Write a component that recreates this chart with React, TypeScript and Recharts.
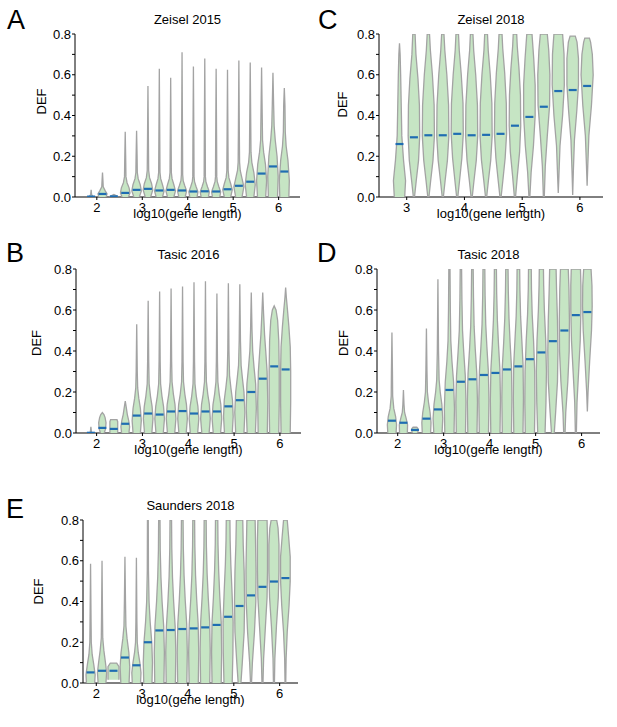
import { ComposedChart, Scatter, XAxis, YAxis } from "recharts";

// bin centres on log10(gene length)
const CENTERS_18 = [1.875, 2.125, 2.375, 2.625, 2.875, 3.125, 3.375, 3.625, 3.875, 4.125, 4.375, 4.625, 4.875, 5.125, 5.375, 5.625, 5.875, 6.125];
const CENTERS_14 = [2.875, 3.125, 3.375, 3.625, 3.875, 4.125, 4.375, 4.625, 4.875, 5.125, 5.375, 5.625, 5.875, 6.125];

const Y_TICKS = [0, 0.1, 0.2, 0.3, 0.4, 0.5, 0.6, 0.7, 0.8];
const X_TICKS_FROM_2 = [2, 3, 4, 5, 6];
const X_TICKS_FROM_3 = [3, 4, 5, 6];

// violin outlines: [DEF level, half width in log10 units], bottom to top
const ZEISEL_2015_MEDIANS = [0.002, 0.015, 0.003, 0.02, 0.035, 0.04, 0.032, 0.035, 0.032, 0.027, 0.028, 0.027, 0.038, 0.055, 0.075, 0.115, 0.15, 0.125];
const ZEISEL_2015_SHAPES = [
  [[0, 0.04], [0.006, 0.03], [0.012, 0.01], [0.035, 0]],
  [[0, 0.08], [0.015, 0.1], [0.03, 0.06], [0.05, 0.016], [0.08, 0.01], [0.12, 0]],
  [[0, 0.09], [0.006, 0.06], [0.012, 0]],
  [[0, 0.07], [0.02, 0.105], [0.045, 0.085], [0.07, 0.04], [0.1, 0.016], [0.18, 0.011], [0.32, 0]],
  [[0, 0.06], [0.03, 0.105], [0.06, 0.08], [0.09, 0.035], [0.12, 0.016], [0.2, 0.011], [0.325, 0]],
  [[0, 0.06], [0.035, 0.105], [0.065, 0.08], [0.095, 0.035], [0.13, 0.016], [0.25, 0.011], [0.545, 0]],
  [[0, 0.07], [0.03, 0.105], [0.06, 0.07], [0.09, 0.03], [0.12, 0.015], [0.25, 0.011], [0.63, 0]],
  [[0, 0.07], [0.03, 0.105], [0.06, 0.07], [0.09, 0.03], [0.12, 0.015], [0.25, 0.011], [0.585, 0]],
  [[0, 0.07], [0.03, 0.1], [0.055, 0.06], [0.08, 0.025], [0.11, 0.014], [0.25, 0.011], [0.71, 0]],
  [[0, 0.08], [0.025, 0.1], [0.05, 0.06], [0.075, 0.025], [0.1, 0.014], [0.25, 0.011], [0.64, 0]],
  [[0, 0.08], [0.025, 0.1], [0.05, 0.06], [0.075, 0.025], [0.1, 0.014], [0.25, 0.011], [0.68, 0]],
  [[0, 0.08], [0.025, 0.1], [0.05, 0.06], [0.075, 0.025], [0.1, 0.014], [0.25, 0.011], [0.63, 0]],
  [[0, 0.07], [0.035, 0.105], [0.065, 0.07], [0.095, 0.03], [0.13, 0.015], [0.25, 0.011], [0.625, 0]],
  [[0, 0.07], [0.05, 0.11], [0.09, 0.07], [0.13, 0.03], [0.17, 0.016], [0.3, 0.011], [0.67, 0]],
  [[0, 0.08], [0.06, 0.11], [0.12, 0.08], [0.17, 0.035], [0.22, 0.017], [0.35, 0.012], [0.66, 0]],
  [[0, 0.09], [0.08, 0.11], [0.16, 0.085], [0.22, 0.045], [0.28, 0.021], [0.4, 0.014], [0.635, 0]],
  [[0, 0.1], [0.1, 0.115], [0.2, 0.09], [0.28, 0.05], [0.35, 0.026], [0.45, 0.015], [0.61, 0]],
  [[0, 0.1], [0.08, 0.11], [0.18, 0.08], [0.25, 0.04], [0.32, 0.021], [0.45, 0.014], [0.535, 0]],
];

const ZEISEL_2018_MEDIANS = [0.26, 0.293, 0.303, 0.303, 0.31, 0.303, 0.305, 0.31, 0.35, 0.393, 0.443, 0.52, 0.525, 0.545];
const ZEISEL_2018_SHAPES = [
  [[0, 0.09], [0.08, 0.105], [0.18, 0.07], [0.3, 0.04], [0.45, 0.03], [0.6, 0.02], [0.7, 0.011], [0.755, 0]],
  [[0, 0.01], [0.08, 0.04], [0.18, 0.08], [0.3, 0.1], [0.45, 0.095], [0.58, 0.07], [0.7, 0.035], [0.8, 0.02]],
  [[0, 0.01], [0.08, 0.04], [0.18, 0.08], [0.3, 0.105], [0.45, 0.1], [0.6, 0.07], [0.72, 0.035], [0.8, 0.02]],
  [[0, 0.01], [0.08, 0.04], [0.18, 0.08], [0.3, 0.105], [0.45, 0.1], [0.6, 0.07], [0.72, 0.035], [0.8, 0.02]],
  [[0, 0.01], [0.08, 0.04], [0.19, 0.08], [0.31, 0.105], [0.46, 0.1], [0.6, 0.07], [0.72, 0.035], [0.8, 0.022]],
  [[0, 0.01], [0.08, 0.04], [0.18, 0.08], [0.3, 0.105], [0.45, 0.1], [0.6, 0.07], [0.72, 0.035], [0.8, 0.022]],
  [[0, 0.01], [0.08, 0.04], [0.18, 0.08], [0.3, 0.105], [0.46, 0.1], [0.6, 0.072], [0.72, 0.037], [0.8, 0.024]],
  [[0, 0.01], [0.08, 0.04], [0.19, 0.08], [0.31, 0.105], [0.46, 0.1], [0.61, 0.072], [0.73, 0.038], [0.8, 0.026]],
  [[0, 0.01], [0.1, 0.04], [0.22, 0.08], [0.35, 0.1], [0.5, 0.095], [0.63, 0.07], [0.74, 0.04], [0.8, 0.03]],
  [[0, 0.008], [0.12, 0.03], [0.25, 0.07], [0.4, 0.1], [0.55, 0.1], [0.68, 0.075], [0.8, 0.045]],
  [[0, 0.008], [0.15, 0.025], [0.3, 0.06], [0.45, 0.1], [0.6, 0.105], [0.72, 0.085], [0.8, 0.06]],
  [[0.02, 0], [0.1, 0.011], [0.25, 0.03], [0.4, 0.075], [0.55, 0.105], [0.7, 0.1], [0.8, 0.075]],
  [[0.01, 0], [0.12, 0.011], [0.28, 0.03], [0.42, 0.07], [0.55, 0.1], [0.68, 0.1], [0.76, 0.075], [0.79, 0.045]],
  [[0.055, 0], [0.15, 0.011], [0.3, 0.03], [0.45, 0.075], [0.6, 0.105], [0.7, 0.09], [0.76, 0.06], [0.78, 0.04]],
];

const TASIC_2016_MEDIANS = [0.001, 0.025, 0.02, 0.045, 0.085, 0.095, 0.09, 0.105, 0.107, 0.095, 0.105, 0.105, 0.13, 0.16, 0.2, 0.265, 0.325, 0.31];
const TASIC_2016_SHAPES = [
  [[0, 0.03], [0.005, 0.012], [0.03, 0]],
  [[0, 0.04], [0.02, 0.07], [0.05, 0.08], [0.075, 0.06], [0.09, 0.035], [0.1, 0]],
  [[0, 0.085], [0.055, 0.085], [0.065, 0.07]],
  [[0, 0.08], [0.03, 0.095], [0.06, 0.075], [0.09, 0.045], [0.12, 0.025], [0.155, 0]],
  [[0, 0.08], [0.06, 0.1], [0.12, 0.08], [0.17, 0.045], [0.22, 0.021], [0.3, 0.012], [0.53, 0]],
  [[0, 0.08], [0.07, 0.105], [0.13, 0.085], [0.18, 0.05], [0.24, 0.021], [0.35, 0.012], [0.645, 0]],
  [[0, 0.08], [0.07, 0.105], [0.13, 0.085], [0.18, 0.05], [0.24, 0.021], [0.35, 0.012], [0.69, 0]],
  [[0, 0.08], [0.07, 0.105], [0.14, 0.085], [0.19, 0.05], [0.25, 0.021], [0.35, 0.012], [0.705, 0]],
  [[0, 0.08], [0.07, 0.105], [0.14, 0.085], [0.19, 0.05], [0.25, 0.021], [0.35, 0.012], [0.715, 0]],
  [[0, 0.08], [0.07, 0.105], [0.13, 0.085], [0.18, 0.05], [0.24, 0.021], [0.35, 0.012], [0.735, 0]],
  [[0, 0.08], [0.07, 0.105], [0.14, 0.085], [0.19, 0.05], [0.25, 0.021], [0.35, 0.012], [0.74, 0]],
  [[0, 0.08], [0.07, 0.105], [0.14, 0.085], [0.19, 0.05], [0.25, 0.021], [0.35, 0.012], [0.68, 0]],
  [[0, 0.085], [0.08, 0.105], [0.16, 0.09], [0.22, 0.055], [0.28, 0.026], [0.4, 0.013], [0.73, 0]],
  [[0, 0.09], [0.1, 0.11], [0.2, 0.09], [0.27, 0.055], [0.33, 0.028], [0.45, 0.014], [0.725, 0]],
  [[0, 0.09], [0.12, 0.11], [0.24, 0.095], [0.32, 0.06], [0.4, 0.031], [0.5, 0.016], [0.685, 0]],
  [[0, 0.1], [0.15, 0.11], [0.3, 0.095], [0.4, 0.065], [0.48, 0.04], [0.58, 0.019], [0.685, 0]],
  [[0, 0.1], [0.15, 0.11], [0.3, 0.11], [0.45, 0.1], [0.55, 0.075], [0.6, 0.04], [0.62, 0]],
  [[0, 0.1], [0.15, 0.11], [0.3, 0.11], [0.42, 0.1], [0.52, 0.07], [0.6, 0.04], [0.66, 0.016], [0.71, 0]],
];

const TASIC_2018_MEDIANS = [0.06, 0.05, 0.015, 0.07, 0.115, 0.21, 0.25, 0.262, 0.283, 0.293, 0.31, 0.325, 0.36, 0.393, 0.448, 0.5, 0.575, 0.59];
const TASIC_2018_SHAPES = [
  [[0, 0.09], [0.04, 0.1], [0.08, 0.08], [0.12, 0.04], [0.18, 0.016], [0.3, 0.011], [0.49, 0]],
  [[0, 0.085], [0.04, 0.09], [0.07, 0.06], [0.1, 0.025], [0.14, 0.012], [0.21, 0]],
  [[0, 0.05], [0.005, 0.065], [0.022, 0.065], [0.028, 0.04]],
  [[0, 0.09], [0.05, 0.1], [0.1, 0.08], [0.15, 0.045], [0.2, 0.021], [0.3, 0.012], [0.51, 0]],
  [[0, 0.09], [0.07, 0.105], [0.14, 0.085], [0.2, 0.05], [0.26, 0.026], [0.4, 0.013], [0.75, 0]],
  [[0, 0.1], [0.12, 0.11], [0.25, 0.09], [0.35, 0.055], [0.45, 0.03], [0.6, 0.02], [0.8, 0.013]],
  [[0, 0.1], [0.15, 0.11], [0.28, 0.095], [0.4, 0.06], [0.5, 0.035], [0.65, 0.022], [0.8, 0.015]],
  [[0, 0.1], [0.15, 0.11], [0.29, 0.095], [0.41, 0.062], [0.52, 0.037], [0.66, 0.024], [0.8, 0.017]],
  [[0, 0.1], [0.16, 0.11], [0.3, 0.097], [0.42, 0.065], [0.53, 0.04], [0.67, 0.026], [0.8, 0.02]],
  [[0, 0.1], [0.16, 0.11], [0.31, 0.098], [0.43, 0.068], [0.55, 0.043], [0.68, 0.028], [0.8, 0.022]],
  [[0, 0.1], [0.17, 0.11], [0.32, 0.1], [0.44, 0.07], [0.56, 0.046], [0.69, 0.031], [0.8, 0.025]],
  [[0, 0.1], [0.17, 0.11], [0.33, 0.102], [0.46, 0.073], [0.57, 0.048], [0.7, 0.033], [0.8, 0.028]],
  [[0, 0.1], [0.15, 0.11], [0.3, 0.105], [0.45, 0.08], [0.58, 0.05], [0.7, 0.035], [0.8, 0.03]],
  [[0, 0.08], [0.15, 0.1], [0.3, 0.11], [0.45, 0.095], [0.6, 0.065], [0.72, 0.05], [0.8, 0.045]],
  [[0, 0.03], [0.1, 0.06], [0.25, 0.1], [0.4, 0.11], [0.55, 0.1], [0.7, 0.08], [0.8, 0.07]],
  [[0, 0.015], [0.1, 0.03], [0.25, 0.075], [0.4, 0.105], [0.55, 0.11], [0.7, 0.1], [0.8, 0.085]],
  [[0, 0.011], [0.15, 0.025], [0.3, 0.06], [0.45, 0.095], [0.6, 0.11], [0.72, 0.11], [0.8, 0.1]],
  [[0.105, 0], [0.2, 0.015], [0.35, 0.05], [0.5, 0.09], [0.62, 0.105], [0.72, 0.1], [0.8, 0.08]],
];

const SAUNDERS_2018_MEDIANS = [0.052, 0.06, 0.06, 0.125, 0.087, 0.2, 0.258, 0.26, 0.265, 0.268, 0.273, 0.285, 0.325, 0.378, 0.43, 0.472, 0.498, 0.515];
const SAUNDERS_2018_SHAPES = [
  [[0, 0.09], [0.04, 0.1], [0.09, 0.07], [0.14, 0.035], [0.2, 0.016], [0.3, 0.011], [0.585, 0]],
  [[0, 0.085], [0.05, 0.1], [0.1, 0.075], [0.16, 0.04], [0.22, 0.016], [0.32, 0.011], [0.6, 0]],
  [[0.016, 0.12], [0.08, 0.12], [0.098, 0.07]],
  [[0, 0.09], [0.08, 0.105], [0.15, 0.085], [0.22, 0.045], [0.28, 0.021], [0.4, 0.012], [0.62, 0]],
  [[0, 0.09], [0.05, 0.1], [0.1, 0.075], [0.15, 0.04], [0.2, 0.019], [0.3, 0.011], [0.615, 0]],
  [[0, 0.09], [0.1, 0.1], [0.2, 0.085], [0.3, 0.05], [0.4, 0.026], [0.55, 0.013], [0.8, 0.009]],
  [[0, 0.1], [0.15, 0.11], [0.28, 0.095], [0.4, 0.06], [0.52, 0.035], [0.65, 0.02], [0.8, 0.015]],
  [[0, 0.1], [0.15, 0.11], [0.28, 0.095], [0.4, 0.062], [0.52, 0.037], [0.66, 0.022], [0.8, 0.017]],
  [[0, 0.1], [0.15, 0.11], [0.29, 0.097], [0.41, 0.064], [0.53, 0.039], [0.66, 0.024], [0.8, 0.018]],
  [[0, 0.1], [0.15, 0.11], [0.29, 0.097], [0.41, 0.065], [0.53, 0.04], [0.67, 0.025], [0.8, 0.02]],
  [[0, 0.1], [0.16, 0.11], [0.3, 0.098], [0.42, 0.067], [0.54, 0.042], [0.67, 0.027], [0.8, 0.022]],
  [[0, 0.1], [0.15, 0.11], [0.3, 0.1], [0.42, 0.07], [0.55, 0.045], [0.68, 0.03], [0.8, 0.025]],
  [[0, 0.09], [0.15, 0.105], [0.3, 0.11], [0.45, 0.085], [0.58, 0.06], [0.7, 0.045], [0.8, 0.04]],
  [[0, 0.03], [0.1, 0.06], [0.25, 0.1], [0.4, 0.11], [0.55, 0.1], [0.68, 0.08], [0.8, 0.07]],
  [[0, 0.011], [0.1, 0.03], [0.25, 0.075], [0.4, 0.105], [0.55, 0.11], [0.68, 0.1], [0.8, 0.09]],
  [[0, 0.011], [0.12, 0.025], [0.28, 0.065], [0.42, 0.1], [0.56, 0.11], [0.7, 0.11], [0.8, 0.1]],
  [[0, 0.011], [0.12, 0.02], [0.28, 0.055], [0.42, 0.095], [0.55, 0.11], [0.68, 0.11], [0.76, 0.09], [0.8, 0.06]],
  [[0, 0.008], [0.12, 0.016], [0.25, 0.04], [0.38, 0.08], [0.5, 0.105], [0.62, 0.105], [0.72, 0.07], [0.8, 0.04]],
];

const FONT = '"Liberation Sans", Arial, Helvetica, sans-serif';
const VIOLIN_STYLE = { fill: "#c6e5c4", stroke: "#a3a3a3", strokeWidth: 1.3 };
const MEDIAN_COLOR = "#1f6db2";
const AXIS_W = 60;

const PANELS = [
  { letter: "A", title: "Zeisel 2015", centers: CENTERS_18, medians: ZEISEL_2015_MEDIANS, shapes: ZEISEL_2015_SHAPES, xTicks: X_TICKS_FROM_2, xDomain: [1.52, 6.47], box: { left: 75, top: 34, right: 300, bottom: 197 }, defDx: -4, defDy: -14, letterPos: { left: 7, top: 7 } },
  { letter: "C", title: "Zeisel 2018", centers: CENTERS_14, medians: ZEISEL_2018_MEDIANS, shapes: ZEISEL_2018_SHAPES, xTicks: X_TICKS_FROM_3, xDomain: [2.52, 6.4], box: { left: 379, top: 34, right: 603, bottom: 197 }, defDx: -7, defDy: -11, letterPos: { left: 318, top: 7 } },
  { letter: "B", title: "Tasic 2016", centers: CENTERS_18, medians: TASIC_2016_MEDIANS, shapes: TASIC_2016_SHAPES, xTicks: X_TICKS_FROM_2, xDomain: [1.55, 6.46], box: { left: 76, top: 269, right: 301, bottom: 433 }, defDx: -10, defDy: -8, letterPos: { left: 6, top: 240 } },
  { letter: "D", title: "Tasic 2018", centers: CENTERS_18, medians: TASIC_2018_MEDIANS, shapes: TASIC_2018_SHAPES, xTicks: X_TICKS_FROM_2, xDomain: [1.55, 6.4], box: { left: 377, top: 269, right: 600, bottom: 433 }, defDx: -4, defDy: -8, letterPos: { left: 317, top: 240 } },
  { letter: "E", title: "Saunders 2018", centers: CENTERS_18, medians: SAUNDERS_2018_MEDIANS, shapes: SAUNDERS_2018_SHAPES, xTicks: X_TICKS_FROM_2, xDomain: [1.71, 6.4], box: { left: 83, top: 520, right: 298, bottom: 683 }, defDx: -15, defDy: -10, letterPos: { left: 6, top: 496 } },
];

// left edge going up, right edge coming back down
const outline = (center: number, shape: number[][]) => [
  ...shape.map(([y, w]) => ({ x: center - w, y })),
  ...[...shape].reverse().map(([y, w]) => ({ x: center + w, y })),
];

const NoMarker = () => <g />;

const MedianMark = (props: any) => (
  <line x1={props.cx - 4} x2={props.cx + 4} y1={props.cy} y2={props.cy} stroke={MEDIAN_COLOR} strokeWidth={2.2} />
);

const tickText = { fill: "#000", fontSize: 13, fontFamily: FONT };

function ViolinPanel({ panel }: { panel: (typeof PANELS)[number] }) {
  const { box } = panel;
  const plotW = box.right - box.left;
  const plotH = box.bottom - box.top;
  const medianData = panel.centers.map((x, i) => ({ x, y: panel.medians[i] }));

  return (
    <>
      <div style={{ position: "absolute", left: panel.letterPos.left, top: panel.letterPos.top, fontFamily: FONT, fontSize: 27, lineHeight: "27px", color: "#000" }}>
        {panel.letter}
      </div>
      <div style={{ position: "absolute", left: box.left, top: box.top - 22, width: plotW, textAlign: "center", fontFamily: FONT, fontSize: 13, lineHeight: "15px", color: "#000" }}>
        {panel.title}
      </div>
      <div style={{ position: "absolute", left: box.left - AXIS_W, top: box.top - 30 }}>
        <ComposedChart width={plotW + AXIS_W + 10} height={plotH + 60} margin={{ top: 30, right: 10, bottom: 0, left: 0 }}>
          <XAxis
            type="number"
            dataKey="x"
            domain={panel.xDomain}
            allowDataOverflow
            ticks={panel.xTicks}
            interval={0}
            height={30}
            stroke="#000"
            tickSize={3}
            tickMargin={3}
            tick={tickText}
            label={{ value: "log10(gene length)", position: "insideBottom", offset: 9, fill: "#000", fontSize: 13, fontFamily: FONT }}
          />
          <YAxis
            type="number"
            dataKey="y"
            domain={[0, 0.8]}
            allowDataOverflow
            ticks={Y_TICKS}
            interval={0}
            width={AXIS_W}
            stroke="#000"
            tickSize={3}
            tickMargin={1}
            tick={tickText}
            tickFormatter={(v: number) => (Math.round(v * 10) % 2 === 0 ? v.toFixed(1) : "")}
            label={{ value: "DEF", angle: -90, position: "center", dx: panel.defDx, dy: panel.defDy, fill: "#000", fontSize: 13, fontFamily: FONT }}
          />
          <XAxis xAxisId="top" orientation="top" type="number" domain={[0, 1]} height={0} tick={false} tickLine={false} stroke="#000" />
          <YAxis yAxisId="right" orientation="right" type="number" domain={[0, 1]} width={0} tick={false} tickLine={false} stroke="#000" />
          {panel.shapes.map((shape, i) => (
            <Scatter
              key={i}
              data={outline(panel.centers[i], shape)}
              shape={NoMarker}
              line={VIOLIN_STYLE}
              lineJointType="linear"
              isAnimationActive={false}
            />
          ))}
          <Scatter data={medianData} shape={MedianMark} isAnimationActive={false} />
        </ComposedChart>
      </div>
    </>
  );
}

export default function App() {
  return (
    <div style={{ position: "absolute", left: 0, top: 0, width: 617, height: 727, background: "#fff" }}>
      {PANELS.map((p) => (
        <ViolinPanel key={p.letter} panel={p} />
      ))}
    </div>
  );
}
